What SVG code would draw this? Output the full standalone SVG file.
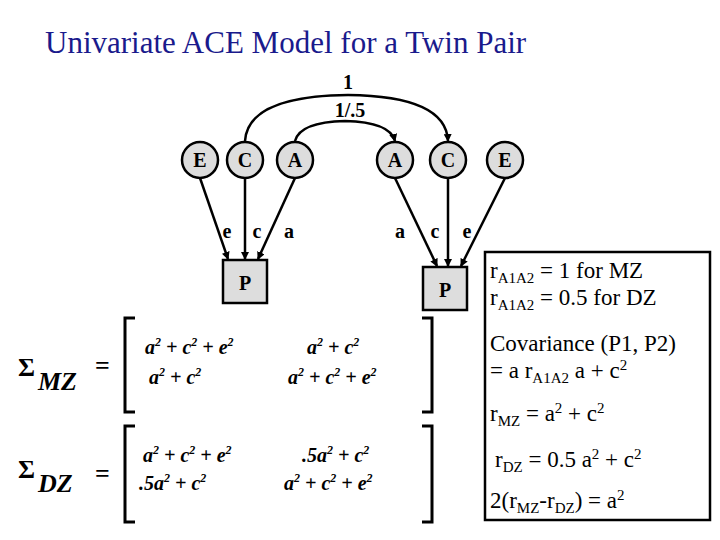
<svg xmlns="http://www.w3.org/2000/svg" width="720" height="540" viewBox="0 0 720 540">
<defs>
<marker id="ah" markerWidth="8" markerHeight="8" refX="7" refY="4" orient="auto" markerUnits="userSpaceOnUse"><path d="M0,0 L8,4 L0,8 z" fill="#000"/></marker>
<style>
text{font-family:"Liberation Serif","Times New Roman","DejaVu Serif",serif}
.n circle{fill:#ddd;stroke:#000;stroke-width:2.5}
.n rect{fill:#ddd;stroke:#000;stroke-width:2.5}
.lt{font-weight:bold;font-size:20px;text-anchor:middle}
.c line,.c path{stroke:#000;stroke-width:2.5;fill:none}
.m{font-weight:bold;font-style:italic;font-size:20px}
.br{fill:none;stroke:#000;stroke-width:3}
.t{font-size:23px}
</style>
</defs>
<rect width="720" height="540" fill="#fff"/>
<text x="45" y="53" font-size="31" fill="#1a1a8c">Univariate ACE Model for a Twin Pair</text>
<g class="c">
<path d="M245,141 Q248,96 348,95 Q446,96 448,141" marker-end="url(#ah)" marker-start="url(#ah)"/>
<path d="M295,141 Q300,122 345,121 Q390,122 395,141" marker-end="url(#ah)" marker-start="url(#ah)"/>
<line x1="200" y1="178" x2="228" y2="259" marker-end="url(#ah)"/>
<line x1="245" y1="178" x2="245" y2="259" marker-end="url(#ah)"/>
<line x1="295" y1="178" x2="258" y2="259" marker-end="url(#ah)"/>
<line x1="395" y1="178" x2="437" y2="266" marker-end="url(#ah)"/>
<line x1="448" y1="178" x2="448" y2="266" marker-end="url(#ah)"/>
<line x1="505" y1="178" x2="461" y2="266" marker-end="url(#ah)"/>
</g>
<g class="lt">
<text x="348" y="89">1</text>
<text x="350" y="117">1/.5</text>
<text x="227" y="238">e</text><text x="257" y="238">c</text><text x="289" y="238">a</text>
<text x="400" y="238">a</text><text x="435" y="238">c</text><text x="467" y="238">e</text>
</g>
<g id="E1" class="n"><circle cx="200" cy="160" r="18"/><text class="lt" x="200" y="167">E</text></g>
<g id="C1" class="n"><circle cx="245" cy="160" r="18"/><text class="lt" x="245" y="167">C</text></g>
<g id="A1" class="n"><circle cx="295" cy="160" r="18"/><text class="lt" x="295" y="167">A</text></g>
<g id="A2" class="n"><circle cx="395" cy="160" r="18"/><text class="lt" x="395" y="167">A</text></g>
<g id="C2" class="n"><circle cx="448" cy="160" r="18"/><text class="lt" x="448" y="167">C</text></g>
<g id="E2" class="n"><circle cx="505" cy="160" r="18"/><text class="lt" x="505" y="167">E</text></g>
<g id="P1" class="n"><rect x="223" y="260" width="44" height="43"/><text class="lt" x="245" y="290" font-size="22">P</text></g>
<g id="P2" class="n"><rect x="423" y="267" width="44" height="43"/><text class="lt" x="445" y="297" font-size="22">P</text></g>
<g id="info">
<rect x="485" y="252" width="225" height="268" fill="#fff" stroke="#000" stroke-width="2.5"/>
<text class="t" x="490" y="278">r<tspan font-size="15" dy="5">A1A2</tspan><tspan dy="-5"> = 1 for MZ</tspan></text>
<text class="t" x="490" y="305">r<tspan font-size="15" dy="5">A1A2</tspan><tspan dy="-5"> = 0.5 for DZ</tspan></text>
<text class="t" x="490" y="351">Covariance (P1, P2)</text>
<text class="t" x="490" y="378">= a r<tspan font-size="15" dy="5">A1A2</tspan><tspan dy="-5"> a + c</tspan><tspan font-size="15" dy="-8">2</tspan></text>
<text class="t" x="490" y="421">r<tspan font-size="15" dy="5">MZ</tspan><tspan dy="-5"> = a</tspan><tspan font-size="15" dy="-8">2</tspan><tspan dy="8"> + c</tspan><tspan font-size="15" dy="-8">2</tspan></text>
<text class="t" x="495" y="467">r<tspan font-size="15" dy="5">DZ</tspan><tspan dy="-5"> = 0.5 a</tspan><tspan font-size="15" dy="-8">2</tspan><tspan dy="8"> + c</tspan><tspan font-size="15" dy="-8">2</tspan></text>
<text class="t" x="490" y="508">2(r<tspan font-size="15" dy="5">MZ</tspan><tspan dy="-5">-r</tspan><tspan font-size="15" dy="5">DZ</tspan><tspan dy="-5">) = a</tspan><tspan font-size="15" dy="-8">2</tspan></text>
</g>
<g id="matrices">
<text x="18" y="376" font-size="26" font-weight="bold">Σ</text>
<text x="38" y="390" font-size="26" font-weight="bold" font-style="italic">MZ</text>
<text x="95" y="374" font-size="26" font-weight="bold">=</text>
<path class="br" d="M135,318 H125 V412 H135"/>
<path class="br" d="M422,318 H432 V412 H422"/>
<text class="m" x="145" y="354">a<tspan font-size="12" dy="-8">2</tspan><tspan dy="8"> + c</tspan><tspan font-size="12" dy="-8">2</tspan><tspan dy="8"> + e</tspan><tspan font-size="12" dy="-8">2</tspan></text>
<text class="m" x="307" y="354">a<tspan font-size="12" dy="-8">2</tspan><tspan dy="8"> + c</tspan><tspan font-size="12" dy="-8">2</tspan></text>
<text class="m" x="149" y="384">a<tspan font-size="12" dy="-8">2</tspan><tspan dy="8"> + c</tspan><tspan font-size="12" dy="-8">2</tspan></text>
<text class="m" x="288" y="384">a<tspan font-size="12" dy="-8">2</tspan><tspan dy="8"> + c</tspan><tspan font-size="12" dy="-8">2</tspan><tspan dy="8"> + e</tspan><tspan font-size="12" dy="-8">2</tspan></text>
<text x="18" y="478" font-size="26" font-weight="bold">Σ</text>
<text x="38" y="492" font-size="26" font-weight="bold" font-style="italic">DZ</text>
<text x="95" y="482" font-size="26" font-weight="bold">=</text>
<path class="br" d="M135,426 H125 V522 H135"/>
<path class="br" d="M422,426 H432 V522 H422"/>
<text class="m" x="143" y="462">a<tspan font-size="12" dy="-8">2</tspan><tspan dy="8"> + c</tspan><tspan font-size="12" dy="-8">2</tspan><tspan dy="8"> + e</tspan><tspan font-size="12" dy="-8">2</tspan></text>
<text class="m" x="302" y="462">.5a<tspan font-size="12" dy="-8">2</tspan><tspan dy="8"> + c</tspan><tspan font-size="12" dy="-8">2</tspan></text>
<text class="m" x="139" y="490">.5a<tspan font-size="12" dy="-8">2</tspan><tspan dy="8"> + c</tspan><tspan font-size="12" dy="-8">2</tspan></text>
<text class="m" x="284" y="490">a<tspan font-size="12" dy="-8">2</tspan><tspan dy="8"> + c</tspan><tspan font-size="12" dy="-8">2</tspan><tspan dy="8"> + e</tspan><tspan font-size="12" dy="-8">2</tspan></text>
</g>
</svg>
